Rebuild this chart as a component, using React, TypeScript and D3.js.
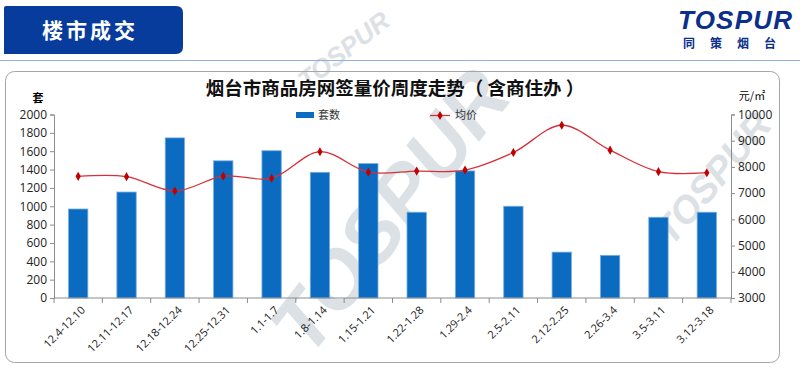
import React, { useEffect, useRef } from 'react';
import * as d3 from 'd3';

// weekly periods
const weeks = [
  '12.4-12.10', '12.11-12.17', '12.18-12.24', '12.25-12.31', '1.1-1.7', '1.8-1.14', '1.15-1.21',
  '1.22-1.28', '1.29-2.4', '2.5-2.11', '2.12-2.25', '2.26-3.4', '3.5-3.11', '3.12-3.18',
];
// 套数 (units sold)
const units = [970, 1155, 1745, 1495, 1605, 1370, 1465, 935, 1385, 1000, 500, 465, 880, 935];
// 均价 (avg price, 元/㎡)
const prices = [7640, 7630, 7080, 7650, 7570, 8580, 7800, 7840, 7880, 8550, 9590, 8640, 7820, 7780];

const unitTicks = [0, 200, 400, 600, 800, 1000, 1200, 1400, 1600, 1800, 2000];
const priceTicks = [3000, 4000, 5000, 6000, 7000, 8000, 9000, 10000];

const FONT = '"Noto Sans CJK SC", "Noto Sans", sans-serif';
const NUM_FONT = '"Open Sans", "Noto Sans", sans-serif';

const App = () => {
  const svgRef = useRef<SVGSVGElement>(null);

  useEffect(() => {
    const svg = d3.select(svgRef.current);
    svg.selectAll('*').remove();

    const margin = { left: 54, right: 69, top: 114.5, bottom: 74 };
    const W = 800;
    const H = 372;
    const plotW = W - margin.left - margin.right;
    const plotH = H - margin.top - margin.bottom;

    // watermarks (faint, behind everything)
    const wm = svg.append('g').attr('font-family', 'Liberation Sans, sans-serif')
      .attr('font-weight', 'bold').attr('font-style', 'italic').attr('fill', '#dce1e6');
    [
      { x: 395, y: 215, s: 80, r: -52 },
      { x: 715, y: 180, s: 38, r: -50 },
      { x: 345, y: 52, s: 26, r: -38 },
    ].forEach((w) => {
      wm.append('text')
        .attr('transform', `translate(${w.x},${w.y}) rotate(${w.r})`)
        .attr('text-anchor', 'middle')
        .attr('dominant-baseline', 'middle')
        .attr('font-size', w.s)
        .text('TOSPUR');
    });

    // header banner
    svg.append('path')
      .attr('d', 'M4,8 Q4,6 6,6 L176,6 Q183,6 183,13 L183,47 Q183,54 176,54 L4,54 Z')
      .attr('fill', '#083c9c');
    svg.append('text')
      .attr('x', 90).attr('y', 38)
      .attr('text-anchor', 'middle')
      .attr('fill', '#fff')
      .attr('font-family', FONT)
      .attr('font-weight', 'bold')
      .attr('font-size', 21)
      .attr('letter-spacing', 3)
      .text('楼市成交');

    // logo
    svg.append('text')
      .attr('x', 735).attr('y', 29)
      .attr('text-anchor', 'middle')
      .attr('fill', '#0b2f8a')
      .attr('font-family', 'Liberation Sans, sans-serif')
      .attr('font-weight', 'bold')
      .attr('font-style', 'italic')
      .attr('font-size', 26)
      .attr('textLength', 114)
      .text('TOSPUR');
    svg.append('text')
      .attr('x', 737).attr('y', 48)
      .attr('text-anchor', 'middle')
      .attr('fill', '#0b2f8a')
      .attr('font-family', FONT)
      .attr('font-weight', 'bold')
      .attr('font-size', 12)
      .attr('letter-spacing', 15)
      .text('同策烟台');

    svg.append('line')
      .attr('x1', 0).attr('x2', W).attr('y1', 60.5).attr('y2', 60.5)
      .attr('stroke', '#8fb2dc').attr('stroke-width', 1);

    // chart frame
    svg.append('rect')
      .attr('x', 5.5).attr('y', 71.5).attr('width', 774).attr('height', 291)
      .attr('rx', 9)
      .attr('fill', 'none')
      .attr('stroke', '#a6a6a6');

    // title
    svg.append('text')
      .attr('x', 395).attr('y', 95)
      .attr('text-anchor', 'middle')
      .attr('font-family', FONT)
      .attr('font-weight', 'bold')
      .attr('font-size', 18.5)
      .attr('fill', '#111')
      .text('烟台市商品房网签量价周度走势（ 含商住办 ）');

    const x = d3.scaleBand<string>()
      .domain(weeks)
      .range([0, plotW])
      .paddingInner(0.6)
      .paddingOuter(0.3);

    const y = d3.scaleLinear().domain([0, 2000]).range([plotH, 0]);
    const y2 = d3.scaleLinear().domain([3000, 10000]).range([plotH, 0]);

    const g = svg.append('g').attr('transform', `translate(${margin.left}, ${margin.top})`);

    // bars
    g.selectAll('rect.bar')
      .data(units)
      .enter()
      .append('rect')
      .attr('class', 'bar')
      .attr('x', (_, i) => x(weeks[i]) as number)
      .attr('y', (d) => y(d))
      .attr('width', x.bandwidth())
      .attr('height', (d) => plotH - y(d))
      .attr('fill', '#0a6bc0')
      .attr('stroke', '#78aee0')
      .attr('stroke-width', 0.8);

    // price line
    const cx = (i: number) => (x(weeks[i]) as number) + x.bandwidth() / 2;
    const line = d3.line<number>()
      .x((_, i) => cx(i))
      .y((d) => y2(d))
      .curve(d3.curveCatmullRom.alpha(0.5));
    g.append('path')
      .datum(prices)
      .attr('d', line)
      .attr('fill', 'none')
      .attr('stroke', '#d7303a')
      .attr('stroke-width', 1.3);

    const marker = d3.symbol().type(d3.symbolDiamond).size(24);
    g.selectAll('path.pt')
      .data(prices)
      .enter()
      .append('path')
      .attr('class', 'pt')
      .attr('transform', (d, i) => `translate(${cx(i)},${y2(d)})`)
      .attr('d', marker)
      .attr('fill', '#c00000');

    // axes
    const styleAxis = (sel: d3.Selection<SVGGElement, unknown, null, undefined>) => {
      sel.select('.domain').attr('stroke', '#8c8c8c');
      sel.selectAll('.tick line').attr('stroke', '#8c8c8c');
      sel.selectAll('.tick text')
        .attr('fill', '#222')
        .attr('font-family', NUM_FONT)
        .attr('font-size', 12);
    };

    const yAxis = g.append('g')
      .call(d3.axisLeft(y).tickValues(unitTicks).tickFormat(d3.format('d')).tickSize(4).tickSizeOuter(4).tickPadding(3));
    styleAxis(yAxis);

    const y2Axis = g.append('g')
      .attr('transform', `translate(${plotW}, 0)`)
      .call(d3.axisRight(y2).tickValues(priceTicks).tickFormat(d3.format('d')).tickSize(4).tickSizeOuter(4).tickPadding(3));
    styleAxis(y2Axis);

    // x axis: ticks at band boundaries, rotated labels
    const xAxis = g.append('g').attr('transform', `translate(0, ${plotH})`);
    xAxis.append('line')
      .attr('x1', 0).attr('x2', plotW)
      .attr('stroke', '#8c8c8c');
    xAxis.selectAll('line.tk')
      .data(d3.range(weeks.length + 1))
      .enter()
      .append('line')
      .attr('class', 'tk')
      .attr('x1', (i) => (i * plotW) / weeks.length)
      .attr('x2', (i) => (i * plotW) / weeks.length)
      .attr('y1', 0).attr('y2', 5)
      .attr('stroke', '#8c8c8c');
    xAxis.selectAll('text')
      .data(weeks)
      .enter()
      .append('text')
      .attr('transform', (d, i) => `translate(${cx(i) + 5},${10}) rotate(-45)`)
      .attr('text-anchor', 'end')
      .attr('dy', '0.35em')
      .attr('font-family', NUM_FONT)
      .attr('font-size', 11)
      .attr('fill', '#222')
      .text((d) => d);

    // axis units
    svg.append('text')
      .attr('x', 38).attr('y', 102)
      .attr('text-anchor', 'middle')
      .attr('font-family', FONT)
      .attr('font-weight', 'bold')
      .attr('font-size', 11)
      .text('套');
    svg.append('text')
      .attr('x', 752).attr('y', 100)
      .attr('text-anchor', 'middle')
      .attr('font-family', FONT)
      .attr('font-size', 11)
      .text('元/㎡');

    // legend
    const lg = svg.append('g').attr('font-family', FONT).attr('font-size', 11).attr('fill', '#333');
    lg.append('rect').attr('x', 296).attr('y', 112).attr('width', 18).attr('height', 6).attr('fill', '#0a6bc0');
    lg.append('text').attr('x', 318).attr('y', 119).text('套数');
    lg.append('line').attr('x1', 430).attr('x2', 450).attr('y1', 115.5).attr('y2', 115.5)
      .attr('stroke', '#d7303a').attr('stroke-width', 1.3);
    lg.append('path').attr('transform', 'translate(440,115.5)').attr('d', marker).attr('fill', '#c00000');
    lg.append('text').attr('x', 455).attr('y', 119).text('均价');
  }, []);

  return (
    <div className="combo-chart">
      <svg ref={svgRef} width={800} height={372} style={{ position: 'absolute', left: 0, top: 0, background: '#fff' }}></svg>
    </div>
  );
};

export default App;
